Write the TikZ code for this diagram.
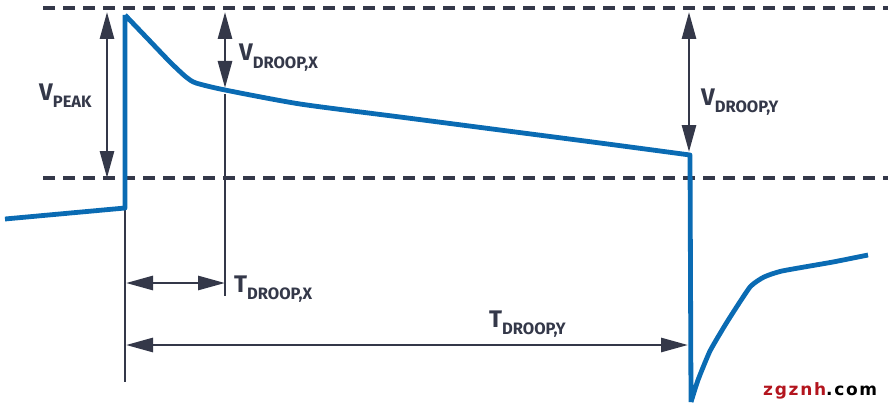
\documentclass[tikz,border=0pt]{standalone}
\usepackage{fontspec}
\setmainfont{Fira Sans}
\newfontfamily\wmfont[LetterSpace=10]{DejaVu Sans}
\usetikzlibrary{arrows.meta}
\definecolor{sigblue}{HTML}{0A6BB3}
\definecolor{dimgray}{HTML}{343849}
\definecolor{wmred}{HTML}{B3151E}
\tikzset{
  refline/.style={draw=dimgray, line width=3.4pt, dash pattern=on 12pt off 8pt},
  dimline/.style={draw=dimgray, line width=2.8pt},
  dimarrow/.style={dimline, {Triangle[length=27pt,width=14pt]}-{Triangle[length=27pt,width=14pt]}},
  signal/.style={draw=sigblue, line width=4.8pt, line join=round},
  lbl/.style={anchor=base west, inner sep=0pt, text=dimgray, font=\bfseries},
}
\newcommand{\mylbl}[2]{{\fontsize{24}{24}\selectfont #1}\raisebox{-7pt}{\fontsize{16.5}{16.5}\selectfont #2}}
\begin{document}
\begin{tikzpicture}[x=1pt,y=-1pt]
\useasboundingbox (0,0) rectangle (894,412);
% reference levels
\coordinate (topL) at (43,8);
\coordinate (topR) at (888,8);
\coordinate (botL) at (43,178);
\coordinate (botR) at (888,178);
\draw[refline] (topL) -- (topR);
\draw[refline] (botL) -- (botR);
% dimension coordinates
\coordinate (vpT) at (107,12);
\coordinate (vpB) at (107,178);
\coordinate (vxT) at (225,12);
\coordinate (vxB) at (225,88);
\coordinate (vxL1) at (225,94);
\coordinate (vxL2) at (225,296);
\coordinate (vyT) at (689,12);
\coordinate (vyB) at (689,152);
\coordinate (t0a) at (125,180);
\coordinate (t0b) at (125,382);
\coordinate (txL) at (126,283);
\coordinate (txR) at (225,283);
\coordinate (tyL) at (126,345);
\coordinate (tyR) at (688,345);
% extension lines
\draw[dimline] (t0a) -- (t0b);
\draw[dimline] (vxL1) -- (vxL2);
% dimension arrows
\draw[dimarrow] (vpT) -- (vpB);
\draw[dimarrow] (vxT) -- (vxB);
\draw[dimarrow] (vyT) -- (vyB);
\draw[dimarrow] (txL) -- (txR);
\draw[dimarrow] (tyL) -- (tyR);
% signal
\coordinate (s0) at (5,219);
\coordinate (s1) at (125,208);
\coordinate (s2) at (125,15);
\coordinate (s3) at (690,155);
\coordinate (s4) at (691,402);
\coordinate (s5) at (868,255);
\draw[signal] (s0) -- (s1) -- (s2)
  plot[smooth, tension=0.4] coordinates {(s2) (147,38) (170,62) (186,77) (196,83) (225,90) (300,104) (400,117) (500,130) (600,143) (s3)}
  -- (s4)
  plot[smooth, tension=0.3] coordinates {(s4) (698,380) (710,351) (727,322) (750,287) (764,277) (782,271) (833,262) (s5)};
% labels
\node[lbl] (lvp) at (39,100) {\mylbl{V}{PEAK}};
\node[lbl] (lvx) at (239,61) {\mylbl{V}{DROOP,X}};
\node[lbl] (lvy) at (701,105) {\mylbl{V}{DROOP,Y}};
\node[lbl] (ltx) at (234,292) {\mylbl{T}{DROOP,X}};
\node[lbl] (lty) at (489,327) {\mylbl{T}{DROOP,Y}};
% watermark
\node[anchor=base west, inner sep=0pt, font=\wmfont\bfseries\fontsize{17}{17}\selectfont] (wm) at (763,395) {\textcolor{wmred}{zgznh}\textcolor{black}{.com}};
\end{tikzpicture}
\end{document}
